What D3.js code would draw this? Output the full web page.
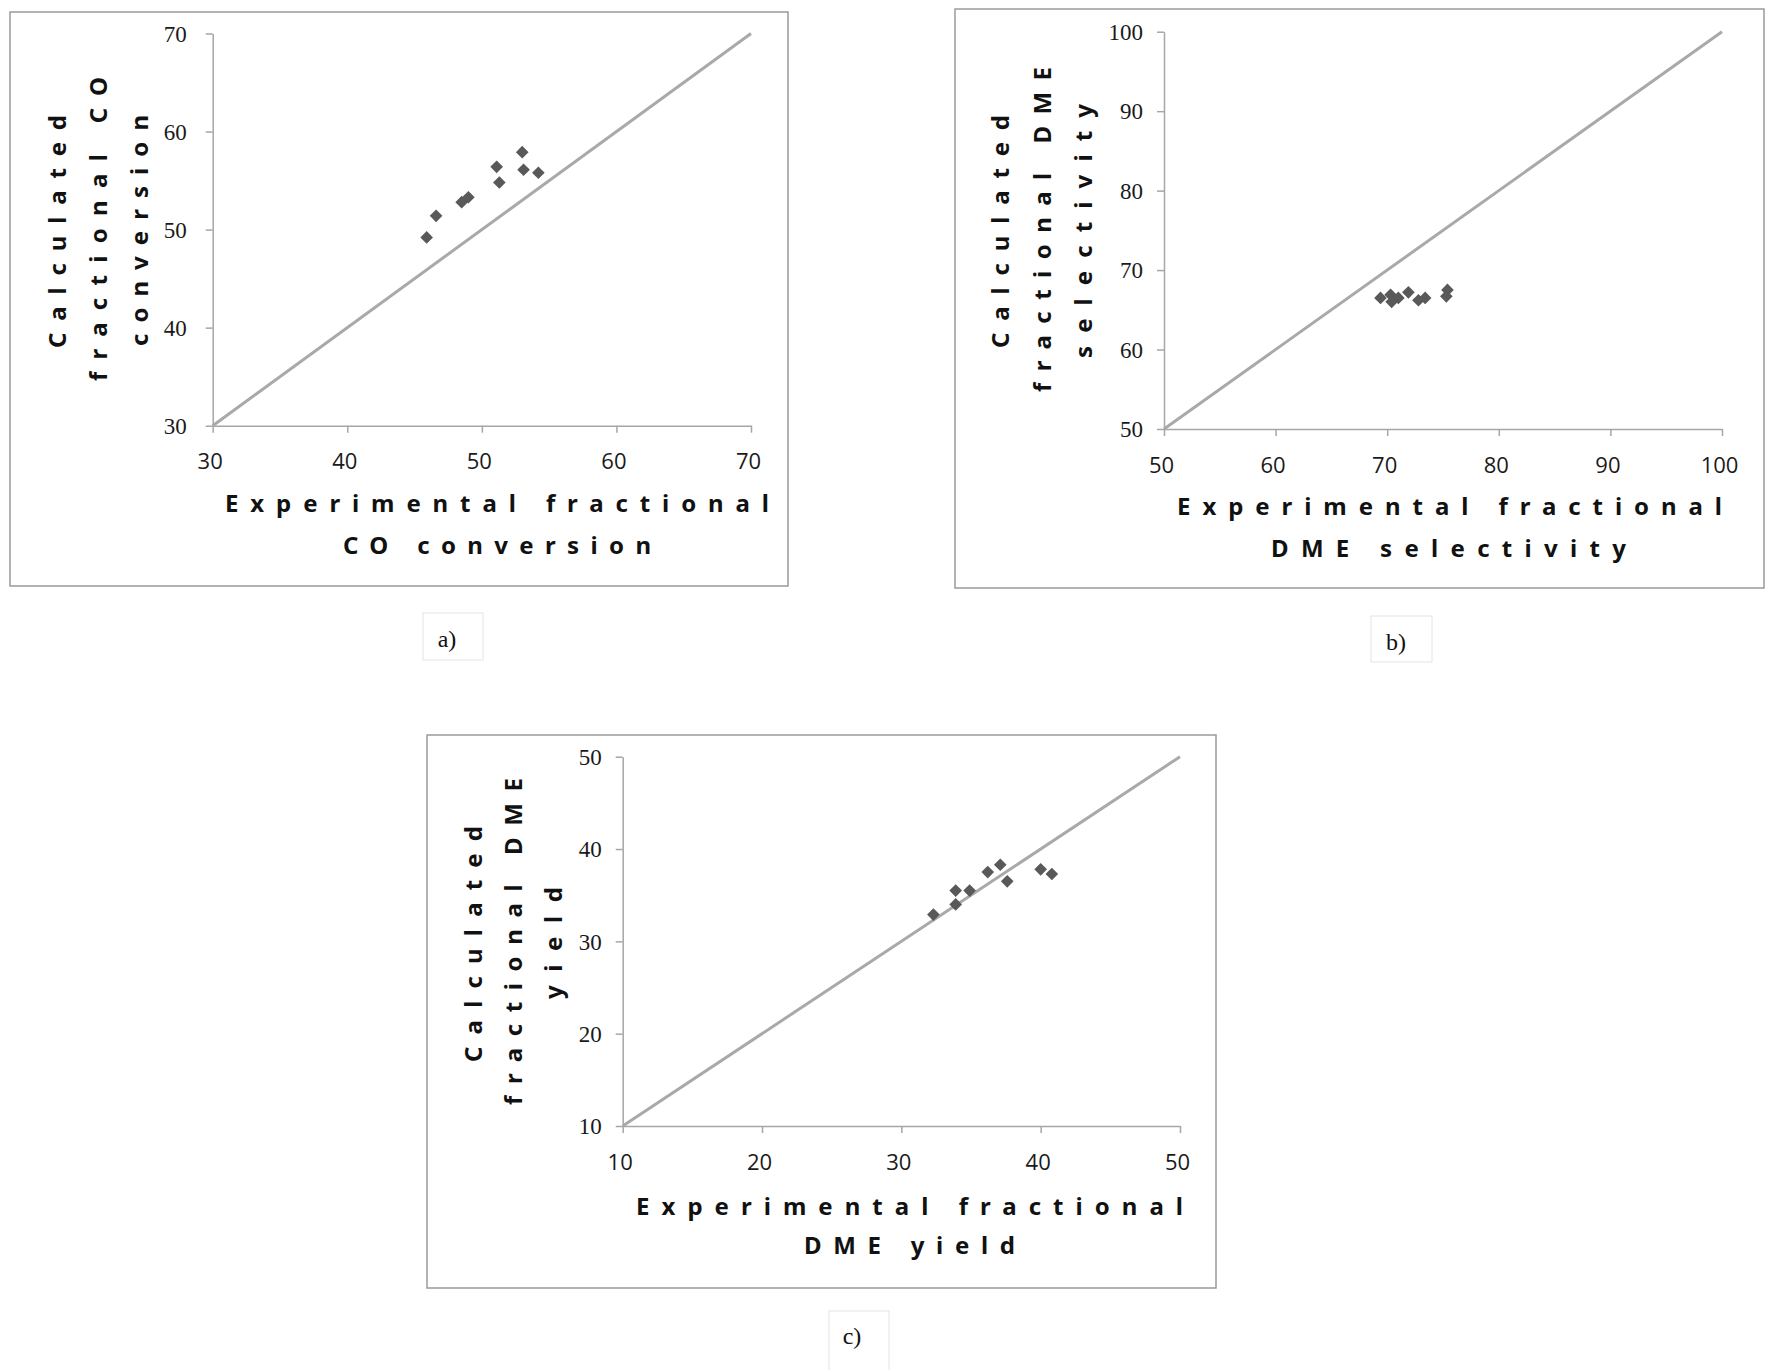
<!DOCTYPE html>
<html><head><meta charset="utf-8">
<script src="https://cdn.jsdelivr.net/npm/d3@7"></script>
<style>body{margin:0;background:#fff} svg{display:block}</style>
</head><body>
<svg id="chart" width="1779" height="1370"></svg>
<script>
// ---- data ----
const aExperimental = [45.9, 46.6, 48.5, 49.0, 51.1, 51.3, 53.0, 53.1, 54.2];
const aCalculated   = [49.2, 51.4, 52.8, 53.3, 56.4, 54.8, 57.9, 56.1, 55.8];
const bExperimental = [69.4, 70.3, 70.4, 71.0, 71.9, 72.8, 73.4, 75.4, 75.3];
const bCalculated   = [66.5, 66.9, 66.0, 66.5, 67.2, 66.2, 66.5, 67.5, 66.7];
const cExperimental = [32.3, 33.9, 33.9, 34.9, 36.2, 37.1, 37.6, 40.0, 40.8];
const cCalculated   = [32.9, 35.5, 34.0, 35.5, 37.5, 38.3, 36.5, 37.8, 37.3];
const aTicks = [30, 40, 50, 60, 70];
const bTicks = [50, 60, 70, 80, 90, 100];
const cTicks = [10, 20, 30, 40, 50];
const aXTitle = ["Experimental fractional", "CO conversion"];
const aYTitle = ["Calculated", "fractional CO", "conversion"];
const bXTitle = ["Experimental fractional", "DME selectivity"];
const bYTitle = ["Calculated", "fractional DME", "selectivity"];
const cXTitle = ["Experimental fractional", "DME yield"];
const cYTitle = ["Calculated", "fractional DME", "yield"];
const panelLabels = ["a)", "b)", "c)"];

// ---- layout ----
const layouts = [
  {frame: [10, 12, 788, 586], plot: [212.7, 33.5, 751, 425.7], yGap: 26,
   xt: [{x: 225, w: 544, y: 512}, {x: 343, w: 308, y: 554}],
   yt: [{x: 66, b: 348, w: 233}, {x: 107, b: 381, w: 304}, {x: 148, b: 346, w: 231}],
   lab: {box: [423, 613, 483, 660], x: 447, y: 647}},
  {frame: [955, 9, 1764, 588], plot: [1164, 31.7, 1722, 429], yGap: 21,
   xt: [{x: 1177, w: 545, y: 515}, {x: 1271, w: 355, y: 557}],
   yt: [{x: 1009, b: 348, w: 233}, {x: 1051, b: 392, w: 325}, {x: 1092, b: 358, w: 254}],
   lab: {box: [1371, 616, 1432, 662], x: 1396, y: 650}},
  {frame: [427, 735, 1216, 1288], plot: [622.7, 756.7, 1180, 1126], yGap: 21,
   xt: [{x: 636, w: 547, y: 1215}, {x: 804, w: 211, y: 1254}],
   yt: [{x: 482, b: 1062, w: 236}, {x: 522, b: 1105, w: 327}, {x: 562, b: 999, w: 112}],
   lab: {box: [829, 1311, 889, 1372], x: 852, y: 1344}}
];

const panels = [
  {xs: aExperimental, ys: aCalculated, ticks: aTicks, xTitle: aXTitle, yTitle: aYTitle},
  {xs: bExperimental, ys: bCalculated, ticks: bTicks, xTitle: bXTitle, yTitle: bYTitle},
  {xs: cExperimental, ys: cCalculated, ticks: cTicks, xTitle: cXTitle, yTitle: cYTitle}
];

const svg = d3.select("#chart");
const AX = "#a6a6a6";
const TITLE_FONT = "'Noto Sans', 'Open Sans', sans-serif";

// square diamond symbol (rotated square)
const squareDiamond = {
  draw(ctx, size) {
    const r = Math.sqrt(size / 2);
    ctx.moveTo(0, -r); ctx.lineTo(r, 0); ctx.lineTo(0, r); ctx.lineTo(-r, 0); ctx.closePath();
  }
};

panels.forEach((p, i) => {
  const L = layouts[i];
  const [fx0, fy0, fx1, fy1] = L.frame;
  const [px0, py0, px1, py1] = L.plot;
  const lo = p.ticks[0], hi = p.ticks[p.ticks.length - 1];
  const x = d3.scaleLinear().domain([lo, hi]).range([px0, px1]);
  const y = d3.scaleLinear().domain([lo, hi]).range([py1, py0]);

  // frame
  svg.append("rect").attr("x", fx0).attr("y", fy0).attr("width", fx1 - fx0).attr("height", fy1 - fy0)
    .attr("fill", "none").attr("stroke", "#9a9a9a").attr("stroke-width", 1.5);

  // axes
  const gy = svg.append("g").attr("transform", `translate(${px0},0)`)
    .call(d3.axisLeft(y).tickValues(p.ticks).tickSize(7).tickSizeOuter(0).tickPadding(L.yGap - 7).tickFormat(d3.format("d")));
  gy.selectAll("path,line").attr("stroke", AX).attr("stroke-width", 1.5);
  gy.selectAll("text").attr("font-family", "'Liberation Serif', 'Times New Roman', serif")
    .attr("font-size", 23).attr("fill", "#1a1a1a").attr("dy", "0.34em");
  gy.attr("font-family", null).attr("font-size", null);

  const gx = svg.append("g").attr("transform", `translate(0,${py1})`)
    .call(d3.axisBottom(x).tickValues(p.ticks).tickSize(7).tickSizeOuter(0).tickPadding(21).tickFormat(d3.format("d")));
  gx.selectAll("path,line").attr("stroke", AX).attr("stroke-width", 1.5);
  gx.selectAll("text").attr("font-family", "'Open Sans', 'Noto Sans', sans-serif")
    .attr("font-size", 22).attr("fill", "#1a1a1a").attr("dx", -3);
  gx.attr("font-family", null).attr("font-size", null);

  // 1:1 line
  svg.append("line").attr("x1", x(lo)).attr("y1", y(lo)).attr("x2", x(hi)).attr("y2", y(hi))
    .attr("stroke", "#a9a9a9").attr("stroke-width", 3);

  // points
  svg.append("g").selectAll("path").data(p.xs.map((v, k) => [v, p.ys[k]])).join("path")
    .attr("d", d3.symbol().type(squareDiamond).size(80))
    .attr("transform", d => `translate(${x(d[0])},${y(d[1])})`)
    .attr("fill", "#595959");

  // x title
  p.xTitle.forEach((t, k) => {
    const s = L.xt[k];
    svg.append("text").attr("x", s.x).attr("y", s.y).text(t)
      .attr("font-family", TITLE_FONT).attr("font-weight", "bold").attr("font-size", 24)
      .attr("fill", "#111").attr("textLength", s.w).attr("lengthAdjust", "spacing");
  });
  // y title (rotated)
  p.yTitle.forEach((t, k) => {
    const s = L.yt[k];
    svg.append("text").attr("transform", `translate(${s.x},${s.b}) rotate(-90)`).text(t)
      .attr("font-family", TITLE_FONT).attr("font-weight", "bold").attr("font-size", 24)
      .attr("fill", "#111").attr("textLength", s.w).attr("lengthAdjust", "spacing");
  });

  // panel label
  const [bx0, by0, bx1, by1] = L.lab.box;
  svg.append("rect").attr("x", bx0).attr("y", by0).attr("width", bx1 - bx0).attr("height", by1 - by0)
    .attr("fill", "none").attr("stroke", "#e4e4e4").attr("stroke-width", 1);
  svg.append("text").attr("x", L.lab.x).attr("y", L.lab.y).attr("text-anchor", "middle")
    .attr("font-family", "'Liberation Serif', 'Times New Roman', serif").attr("font-size", 24)
    .attr("fill", "#111").text(panelLabels[i]);
});
</script>
</body></html>
